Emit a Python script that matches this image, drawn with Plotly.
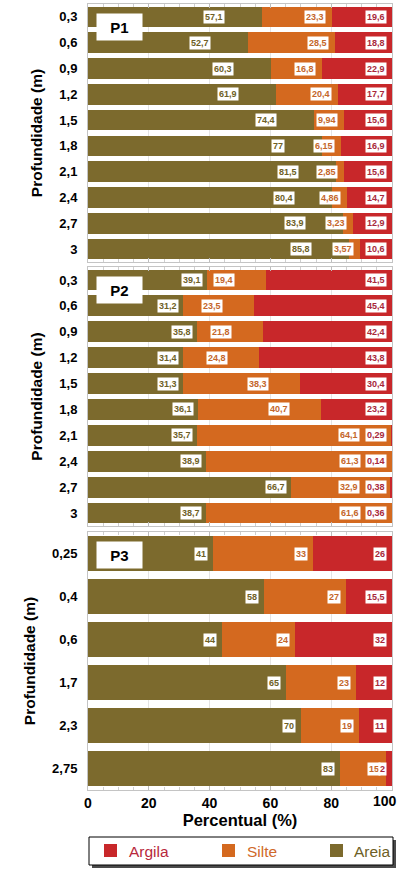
import plotly.graph_objects as go

# ---------------- data ----------------
p1_depths = ["0,3", "0,6", "0,9", "1,2", "1,5", "1,8", "2,1", "2,4", "2,7", "3"]
p1_areia = [57.1, 52.7, 60.3, 61.9, 74.4, 77, 81.5, 80.4, 83.9, 85.8]
p1_silte = [23.3, 28.5, 16.8, 20.4, 9.94, 6.15, 2.85, 4.86, 3.23, 3.57]
p1_argila = [19.6, 18.8, 22.9, 17.7, 15.6, 16.9, 15.6, 14.7, 12.9, 10.6]

p2_depths = ["0,3", "0,6", "0,9", "1,2", "1,5", "1,8", "2,1", "2,4", "2,7", "3"]
p2_areia = [39.1, 31.2, 35.8, 31.4, 31.3, 36.1, 35.7, 38.9, 66.7, 38.7]
p2_silte = [19.4, 23.5, 21.8, 24.8, 38.3, 40.7, 64.1, 61.3, 32.9, 61.6]
p2_argila = [41.5, 45.4, 42.4, 43.8, 30.4, 23.2, 0.29, 0.14, 0.38, 0.36]

p3_depths = ["0,25", "0,4", "0,6", "1,7", "2,3", "2,75"]
p3_areia = [41, 58, 44, 65, 70, 83]
p3_silte = [33, 27, 24, 23, 19, 15]
p3_argila = [26, 15.5, 32, 12, 11, 2]

panel_names = ["P1", "P2", "P3"]
series_names = ["Areia", "Silte", "Argila"]
legend_order = ["Argila", "Silte", "Areia"]
x_ticks = [0, 20, 40, 60, 80, 100]
x_ticktext = ["0", "20", "40", "60", "80", ""]   # "100" drawn separately so it stays on the page
x_last_label = "100"

# ---------------- style ----------------
C_BAR = {"Areia": "#7c6a2d", "Silte": "#d4691f", "Argila": "#c8272a"}
C_TXT = {"Areia": "#6e5f26", "Silte": "#c4662a", "Argila": "#a8283a"}
C_LEG = {"Areia": "#6e5f26", "Silte": "#d0692a", "Argila": "#b8283c"}
SANS = "Liberation Sans, Arial"

W, H = 399, 872
ML, MR, MT, MB = 88, 7, 4, 82
ph = H - MT - MB
pw = W - ML - MR


def py(px):
    return (H - MB - px) / ph


def pxx(px):
    return (px - ML) / pw


domains = [[py(262), 1.0], [py(526), py(267)], [0.0, py(532)]]
# label right-edge offsets (px) per panel, per series (areia, silte, argila)
shifts = [(-37, -6, -5), (-4, -31, -5), (-5, -5, -5)]

panels = [
    (p1_depths, p1_areia, p1_silte, p1_argila),
    (p2_depths, p2_areia, p2_silte, p2_argila),
    (p3_depths, p3_areia, p3_silte, p3_argila),
]

fig = go.Figure()
annotations = []
shapes = []


def fmt(v):
    return ("%g" % v).replace(".", ",")


for i, (dep, ar, si, ag) in enumerate(panels):
    xa = "x" if i == 0 else f"x{i+1}"
    ya = "y" if i == 0 else f"y{i+1}"
    for nm, vals in zip(series_names, (ar, si, ag)):
        fig.add_trace(go.Bar(y=dep, x=vals, orientation="h", name=nm,
                             marker=dict(color=C_BAR[nm], line=dict(width=0)),
                             xaxis=xa, yaxis=ya, showlegend=False))
    sa, ss, sg = shifts[i]
    for j, (a, s, g) in enumerate(zip(ar, si, ag)):
        for xpos, val, nm, sh in ((a, a, "Areia", sa), (a + s, s, "Silte", ss), (a + s + g, g, "Argila", sg)):
            annotations.append(dict(x=min(xpos, 100), y=j, xref=xa, yref=ya, text=f"<b>{fmt(val)}</b>",
                                    showarrow=False, xanchor="right", yanchor="middle", xshift=sh,
                                    bgcolor="white", borderpad=1,
                                    font=dict(family=SANS, size=9, color=C_TXT[nm])))
    # panel tag
    annotations.append(dict(x=pxx(96), y=0.965, xref=f"{xa} domain", yref=f"{ya} domain",
                            text="<b>" + panel_names[i] + "</b>", showarrow=False, xanchor="left", yanchor="top",
                            width=45, height=26, bgcolor="white", borderpad=0,
                            font=dict(family=SANS, size=15, color="black")))

    axis_common = dict(range=[0, 100], tickvals=x_ticks, ticktext=x_ticktext,
                       showgrid=True, gridcolor="#e4e4e4", gridwidth=1,
                       showline=True, linecolor="#c4c4c4", linewidth=1, mirror="ticks",
                       ticks="inside", ticklen=4, tickcolor="#bdbdbd",
                       minor=dict(dtick=5, ticks="inside", ticklen=3, tickcolor="#cfcfcf", showgrid=False),
                       zeroline=False, fixedrange=True, anchor=ya, ticklabeloverflow="allow",
                       automargin=False)
    if i < 2:
        axis_common.update(showticklabels=False, matches="x")
    else:
        axis_common.update(showticklabels=True,
                           tickfont=dict(family=SANS, size=14, color="black", weight="bold"),
                           title=dict(text="<b>Percentual (%)</b>", font=dict(family=SANS, size=16.5, color="black"),
                                      standoff=3))
        # last tick label kept fully inside the page
        annotations.append(dict(x=x_ticks[-1], y=0, xref=xa, yref=f"{ya} domain", text=f"<b>{x_last_label}</b>",
                                showarrow=False, xanchor="right", yanchor="top", xshift=7, yshift=-1,
                                font=dict(family=SANS, size=14, color="black")))
    yaxis_common = dict(domain=domains[i], anchor=xa, type="category", categoryorder="array", categoryarray=dep,
                        autorange="reversed", showline=True, linecolor="#c4c4c4", mirror=True,
                        ticks="", tickfont=dict(family=SANS, size=13, color="black", weight="bold"),
                        ticklabelstandoff=7, automargin=False,
                        title=dict(text="<b>Profundidade (m)</b>", font=dict(family=SANS, size=15.5, color="black"),
                                   standoff=12),
                        showgrid=False, zeroline=False, fixedrange=True)
    xname = "xaxis" if i == 0 else f"xaxis{i+1}"
    yname = "yaxis" if i == 0 else f"yaxis{i+1}"
    fig.update_layout(**{xname: axis_common, yname: yaxis_common})

# ---------------- legend (drawn box) ----------------
lx0, lx1, ly0, ly1 = 89, 393, 837, 865
shapes.append(dict(type="rect", xref="paper", yref="paper",
                   x0=pxx(lx0 + 3), x1=pxx(lx1 + 3), y0=py(ly1 + 3), y1=py(ly0 + 3),
                   fillcolor="#4a4a4a", line=dict(width=0), layer="above"))
shapes.append(dict(type="rect", xref="paper", yref="paper",
                   x0=pxx(lx0), x1=pxx(lx1), y0=py(ly1), y1=py(ly0),
                   fillcolor="white", line=dict(color="black", width=1), layer="above"))
sq_x = [104, 222, 330]
tx_x = [127, 245, 352]
for nm, sx, tx in zip(legend_order, sq_x, tx_x):
    shapes.append(dict(type="rect", xref="paper", yref="paper",
                       x0=pxx(sx), x1=pxx(sx + 13), y0=py(857), y1=py(844),
                       fillcolor=C_BAR[nm], line=dict(width=0), layer="above"))
    annotations.append(dict(x=pxx(tx), y=py(851), xref="paper", yref="paper", text=nm, showarrow=False,
                            xanchor="left", yanchor="middle",
                            font=dict(family=SANS, size=15.5, color=C_LEG[nm])))

fig.update_layout(
    width=W, height=H,
    margin=dict(l=ML, r=MR, t=MT, b=MB, autoexpand=False),
    barmode="stack", bargap=0.2,
    paper_bgcolor="white", plot_bgcolor="white",
    annotations=annotations, shapes=shapes,
    showlegend=False,
)

fig.write_html("out.html", config={"displayModeBar": False},
               post_script="document.body.style.margin='0';document.body.style.overflow='hidden';")
